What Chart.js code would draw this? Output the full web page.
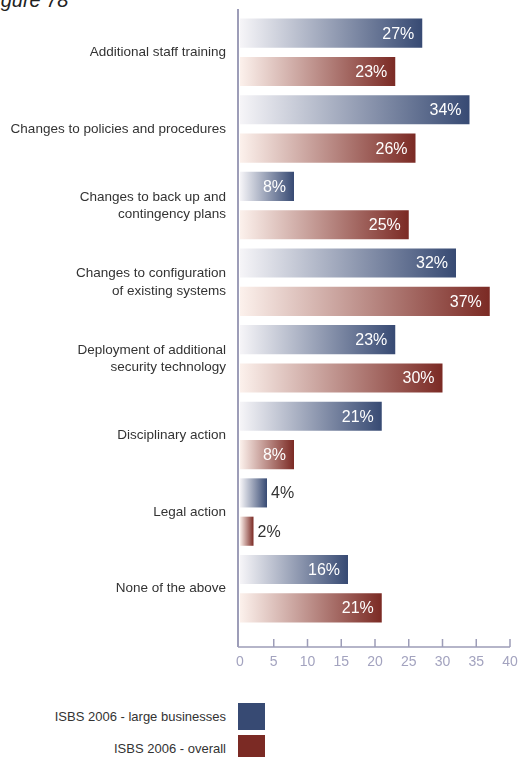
<!DOCTYPE html>
<html>
<head>
<meta charset="utf-8">
<script src="https://cdn.jsdelivr.net/npm/chart.js@4"></script>
<style>
  body { margin: 0; background: #fff; width: 531px; height: 757px; overflow: hidden; position: relative; }
  #fig { position: absolute; left: -16px; top: -11px; font: italic 20px "Liberation Sans", sans-serif; color: #222; }
  #wrap { position: absolute; left: 0; top: 0; width: 531px; height: 690px; }
  .leg { position: absolute; left: 0; width: 531px; height: 27px; font: 13px "Liberation Sans", sans-serif; color: #333; }
  .leg span { position: absolute; right: 305px; top: 6px; white-space: nowrap; }
  .leg i { position: absolute; left: 238px; top: 0; width: 27px; height: 27px; }
</style>
</head>
<body>
<div id="fig">Figure 78</div>
<div id="wrap"><canvas id="chart" width="531" height="690"></canvas></div>
<div class="leg" style="top:703px"><span>ISBS 2006 - large businesses</span><i style="background:#374a73"></i></div>
<div class="leg" style="top:735px"><span>ISBS 2006 - overall</span><i style="background:#7b2a24"></i></div>
<script>
// Данные
const categories = [
    'Additional staff training',
    'Changes to policies and procedures',
    ['Changes to back up and', 'contingency plans'],
    ['Changes to configuration', 'of existing systems'],
    ['Deployment of additional', 'security technology'],
    'Disciplinary action',
    'Legal action',
    'None of the above'
];
const largeBusinesses = [27, 34, 8, 32, 23, 21, 4, 16];
const overall = [23, 26, 25, 37, 30, 8, 2, 21];
const seriesNames = ['ISBS 2006 - large businesses', 'ISBS 2006 - overall'];
const xTicks = [0, 5, 10, 15, 20, 25, 30, 35, 40];

const labelFont = '"Liberation Sans", Arial, sans-serif';
const axisColor = '#9d9db8';

// Градиент для каждого столбца
function barGradient(light, dark) {
    return (c) => {
        const chart = c.chart;
        if (!chart.chartArea || !chart.scales.x) return dark;
        const x = chart.scales.x;
        const x0 = x.getPixelForValue(0);
        const x1 = x.getPixelForValue(c.raw || 0);
        const g = chart.ctx.createLinearGradient(x0, 0, x1, 0);
        g.addColorStop(0, light);
        g.addColorStop(1, dark);
        return g;
    };
}

// Оси и подписи значений
const customDraw = {
    id: 'customDraw',
    afterDatasetsDraw(chart) {
        const ctx = chart.ctx;
        const area = chart.chartArea;
        const x = chart.scales.x;
        const axisY = 647;
        ctx.save();
        ctx.strokeStyle = axisColor;
        ctx.lineWidth = 2;
        ctx.beginPath();
        ctx.moveTo(area.left - 2, 9);
        ctx.lineTo(area.left - 2, axisY);
        ctx.stroke();
        ctx.lineWidth = 1.5;
        ctx.beginPath();
        ctx.moveTo(area.left - 2, axisY);
        ctx.lineTo(x.getPixelForValue(40), axisY);
        xTicks.forEach(t => {
            const px = t === 0 ? area.left - 2 : x.getPixelForValue(t);
            ctx.moveTo(px, axisY);
            ctx.lineTo(px, axisY - 8);
        });
        ctx.stroke();

        ctx.font = '16px "Liberation Sans", Arial, sans-serif';
        ctx.textBaseline = 'middle';
        chart.data.datasets.forEach((ds, di) => {
            chart.getDatasetMeta(di).data.forEach((bar, i) => {
                const v = ds.data[i];
                const txt = v + '%';
                const w = bar.x - bar.base;
                if (w > 45) {
                    ctx.fillStyle = '#ffffff';
                    ctx.textAlign = 'right';
                    ctx.fillText(txt, bar.x - 8, bar.y + 1);
                } else {
                    ctx.fillStyle = '#333333';
                    ctx.textAlign = 'left';
                    ctx.fillText(txt, bar.x + 4, bar.y + 1);
                }
            });
        });
        ctx.restore();
    }
};

new Chart(document.getElementById('chart'), {
    type: 'bar',
    data: {
        labels: categories,
        datasets: [{
            label: seriesNames[0],
            data: largeBusinesses,
            backgroundColor: barGradient('#f6f5f8', '#374a73'),
            barPercentage: 0.76,
            categoryPercentage: 1.0
        }, {
            label: seriesNames[1],
            data: overall,
            backgroundColor: barGradient('#fcf1ec', '#7b2a24'),
            barPercentage: 0.76,
            categoryPercentage: 1.0
        }]
    },
    options: {
        indexAxis: 'y',
        responsive: false,
        animation: false,
        layout: { padding: { top: 14, right: 21, bottom: 13, left: 0 } },
        plugins: {
            legend: { display: false },
            tooltip: { enabled: false }
        },
        scales: {
            x: {
                min: 0,
                max: 40,
                afterBuildTicks: (s) => { s.ticks = xTicks.map(v => ({ value: v })); },
                afterFit: (s) => { s.height = 50; s.paddingLeft = 0; s.paddingRight = 0; },
                grid: { display: false, drawTicks: false },
                border: { display: false },
                ticks: {
                    padding: 27,
                    color: '#a3a3bf',
                    font: { family: labelFont, size: 14 }
                }
            },
            y: {
                afterFit: (s) => { s.width = 240; s.paddingTop = 0; s.paddingBottom = 0; },
                grid: { display: false, drawTicks: false },
                border: { display: false },
                ticks: {
                    padding: 14,
                    color: '#333333',
                    font: { family: labelFont, size: 13.5, lineHeight: 1.3 }
                }
            }
        }
    },
    plugins: [customDraw]
});
</script>
</body>
</html>
